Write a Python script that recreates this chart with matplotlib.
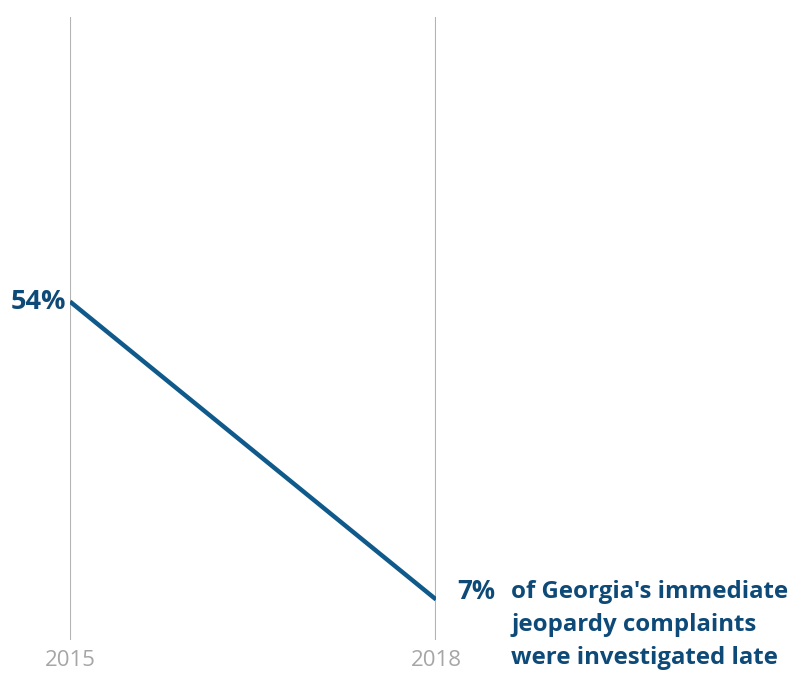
import matplotlib.pyplot as plt

years = ["2015", "2018"]
late_pct = [54, 7]
note = "of Georgia's immediate\njeopardy complaints\nwere investigated late"

BLUE = "#0f5a8a"
TEXT_BLUE = "#0e4a78"
GRAY = "#a6a6a6"

plt.rcParams["font.family"] = ["Open Sans", "DejaVu Sans"]

W, H = 790, 675
fig = plt.figure(figsize=(W / 100, H / 100), dpi=100)
# axes placed in pixel terms: x from 70 to 436, y from 17 to 640
ax = fig.add_axes([70 / W, (H - 640) / H, (436 - 70) / W, (640 - 17) / H])
x = list(range(len(years)))
ax.set_xlim(0, 1)
ax.set_ylim(0.6, 98.9)

for xi in x:
    ax.axvline(xi, color="#b3b3b3", lw=1.5, zorder=1)

ax.plot(x, late_pct, color=BLUE, lw=3.2, solid_capstyle="butt", zorder=2)

ax.annotate(f"{late_pct[0]}%", (x[0], late_pct[0]), xytext=(-3, 0),
            textcoords="offset points", ha="right", va="center",
            fontsize=19.5, fontweight="bold", color=TEXT_BLUE)
ax.annotate(f"{late_pct[1]}%", (x[1], late_pct[1]), xytext=(15, 6),
            textcoords="offset points", ha="left", va="center",
            fontsize=18.5, fontweight="bold", color=TEXT_BLUE)
ax.annotate(note, (x[1], late_pct[1]), xytext=(54, 14),
            textcoords="offset points", ha="left", va="top",
            fontsize=17.3, fontweight="bold", color=TEXT_BLUE, linespacing=1.5)

ax.set_xticks(x)
ax.set_xticklabels(years, fontsize=16, color=GRAY)
ax.tick_params(axis="x", length=0, pad=7)
ax.set_yticks([])
for s in ax.spines.values():
    s.set_visible(False)

fig.savefig("out.png", dpi=100)
